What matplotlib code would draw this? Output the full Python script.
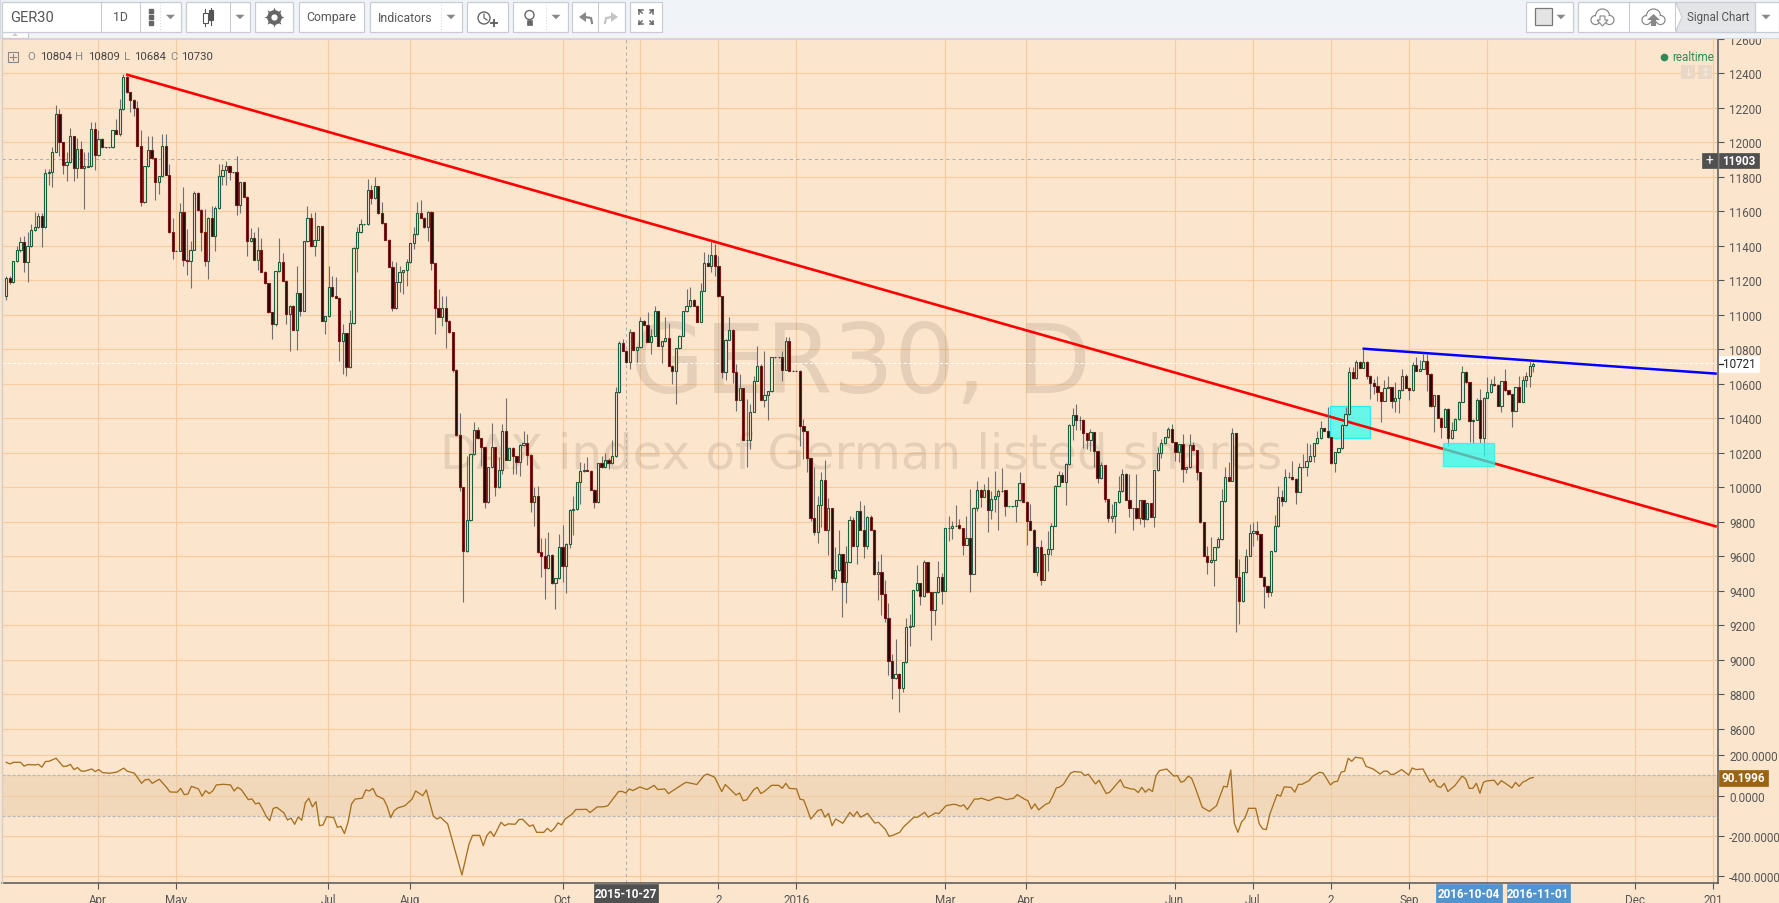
import matplotlib
matplotlib.use('Agg')
import matplotlib.pyplot as plt
import numpy as np
from matplotlib.patches import Rectangle, Circle, Polygon

plt.rcParams['font.family'] = ['Roboto', 'DejaVu Sans']

# daily candles
opens = [
 11111,11212,11192,11310,11374,11420,11304,11397,11494,11507,
 11575,11507,11820,11826,11946,12162,12000,11871,11884,12035,
 11849,11961,11853,11859,11861,12075,11928,12019,11971,11971,
 11971,12070,12050,12191,12377,12290,12247,12199,11981,11652,
 11861,11954,11907,11772,11803,11981,11813,11478,11372,11372,
 11594,11316,11312,11378,11704,11610,11482,11314,11560,11459,
 11617,11807,11842,11861,11826,11826,11639,11768,11685,11430,
 11447,11320,11378,11250,11183,11015,10949,11252,11304,11198,
 11007,11053,10914,11125,11024,11426,11560,11401,11436,11513,
 10966,10991,11160,11107,11100,10850,10893,10696,10951,11388,
 11478,11525,11525,11722,11675,11745,11588,11531,11436,11279,
 11038,11192,11246,11258,11304,11415,11469,11588,11563,11507,
 11598,11299,11038,10990,11038,10966,
 10898,10682,10303,10000,9629,9809,10191,10334,10284,10232,
 9913,10116,10232,10000,10102,10328,10160,10230,10180,10149,
 10245,10255,10187,9913,9952,9623,9600,9530,9610,9443,
 9473,9652,9546,9672,9867,9874,10029,10093,10102,10097,
 9986,9913,10139,10116,10160,10139,10180,10551,10835,10792,
 10724,10898,10798,10811,10966,10943,10844,10879,11020,10821,
 10846,10864,10705,10672,10806,10879,11020,11049,11088,11053,
 10960,11140,11298,11285,11347,11285,11107,10670,10856,10914,
 10670,10508,10574,10276,10276,10438,10618,10701,10508,10537,
 10556,10753,10753,
 10754,10682,10850,10677,10677,10677,10354,10325,10168,9825,
 9743,9898,10041,9755,9879,9473,9519,9612,9454,9566,
 9813,9662,9861,9755,9658,9826,9755,9496,9512,9380,
 9241,8992,8893,8920,8835,8986,9189,9195,9403,9444,
 9369,9566,9392,9291,9392,9479,9401,9763,9767,9778,
 9782,9763,9668,9705,9500,9882,9987,9946,9987,9871,
 9931,9948,9977,9983,9890,9890,9890,9925,10024,9917,
 9807,9755,9512,9653,9465,9612,9643,9778,10010,10074,
 10033,10134,10362,10422,
 10393,10392,10313,10276,10319,10209,10052,10128,9930,9820,
 9836,9913,9977,10079,9929,9878,9878,9820,9925,9817,
 9907,9830,10099,10197,10255,10290,10336,10261,10203,10249,
 10104,10116,10243,10214,10087,9797,9604,9565,9577,9652,
 9699,9919,10058,10039,10313,9478,9339,9507,9604,9733,
 9745,9728,9482,9430,9391,9629,9774,9942,9919,10058,
 10058,10048,9975,
 10116,10116,10151,10180,10255,10284,10342,10329,10290,10139,
 10203,10226,10362,10423,10667,10634,10725,10694,10725,10648,
 10603,10590,10551,10503,10578,10580,10499,10516,10563,10644,
 10578,10563,10707,10677,10688,10734,10659,10470,10534,10404,
 10352,10454,10284,10335,10396,10497,10667,10609,10383,10393,
 10505,10284,10520,10551,10599,10594,10474,10615,10563,10539,
 10445,10580,10497,10620,10644,10704]

closes = [
 11212,11192,11310,11374,11420,11304,11397,11494,11507,11575,
 11507,11820,11826,11946,12162,12000,11871,11884,12035,11849,
 11961,11853,11861,11865,12075,11928,12019,11971,11971,11971,
 12070,12050,12191,12377,12290,12247,12199,11981,11652,11861,
 11954,11907,11772,11803,11981,11813,11478,11372,11372,11594,
 11316,11312,11378,11704,11610,11482,11314,11560,11459,11617,
 11807,11842,11861,11826,11826,11639,11768,11685,11430,11447,
 11320,11378,11250,11183,11015,10949,11252,11304,11198,11007,
 11053,10914,11125,11024,11426,11560,11401,11436,11513,10966,
 10991,11160,11107,11100,10850,10893,10696,10951,11388,11478,
 11525,11525,11722,11675,11745,11588,11531,11436,11279,11038,
 11192,11246,11258,11304,11415,11469,11588,11563,11507,11598,
 11299,11038,10990,11038,10966,10899,
 10682,10303,10000,9629,9809,10191,10334,10284,10232,9913,
 10116,10232,10000,10102,10328,10160,10230,10180,10149,10245,
 10255,10187,9913,9952,9623,9600,9530,9610,9443,9473,
 9652,9546,9672,9867,9874,10029,10093,10102,10097,9986,
 9913,10139,10116,10160,10139,10180,10551,10835,10792,10724,
 10898,10798,10811,10966,10943,10844,10879,11020,10821,10846,
 10864,10705,10672,10806,10879,11020,11049,11088,11053,10960,
 11140,11298,11285,11347,11285,11107,10670,10856,10914,10670,
 10508,10574,10276,10276,10438,10618,10701,10508,10537,10556,
 10753,10753,10753,
 10682,10850,10677,10677,10677,10354,10325,10168,9825,9743,
 9898,10041,9755,9879,9473,9519,9612,9454,9566,9813,
 9662,9861,9755,9658,9826,9755,9496,9512,9380,9241,
 8992,8893,8920,8835,8986,9189,9195,9403,9444,9369,
 9566,9392,9291,9392,9479,9401,9763,9767,9778,9778,
 9763,9668,9705,9500,9882,9987,9946,9987,9871,9931,
 9948,9977,9981,9890,9890,9890,9925,10024,9917,9807,
 9755,9512,9653,9465,9612,9643,9778,10010,10074,10033,
 10134,10362,10422,10393,
 10393,10313,10276,10319,10209,10052,10128,9930,9820,9836,
 9913,9977,10079,9929,9878,9878,9820,9925,9817,9907,
 9830,10099,10197,10255,10290,10336,10261,10203,10249,10104,
 10116,10243,10214,10087,9797,9604,9565,9577,9652,9699,
 9919,10058,10039,10313,9478,9339,9507,9604,9733,9745,
 9728,9482,9430,9391,9629,9774,9942,9919,10058,10058,
 10048,9975,10116,
 10116,10151,10180,10255,10284,10342,10329,10290,10139,10203,
 10226,10362,10423,10667,10634,10725,10694,10725,10648,10603,
 10590,10551,10503,10578,10580,10499,10516,10563,10644,10578,
 10563,10707,10677,10688,10734,10659,10470,10534,10404,10352,
 10454,10284,10335,10396,10497,10667,10609,10383,10393,10505,
 10284,10520,10551,10599,10594,10474,10615,10563,10539,10445,
 10580,10497,10620,10644,10704,10715]

highs = [
 11227,11227,11314,11401,11449,11459,11478,11527,11594,11590,
 11590,11845,11845,11971,12216,12193,12004,11942,12081,12039,
 12025,12010,11942,11942,12116,12116,12073,12023,11973,11973,
 12073,12135,12251,12394,12390,12294,12251,12238,12073,11865,
 12039,12035,11911,11807,12048,12048,11874,11561,11374,11648,
 11739,11498,11430,11720,11710,11614,11614,11565,11633,11633,
 11874,11874,11894,11865,11828,11923,11772,11772,11689,11503,
 11478,11507,11444,11254,11187,11019,11256,11446,11359,11202,
 11057,11057,11281,11129,11430,11633,11590,11594,11517,11517,
 10995,11281,11227,11218,11104,10947,10897,11028,11391,11507,
 11556,11527,11787,11753,11799,11749,11652,11534,11440,11314,
 11304,11285,11262,11324,11418,11507,11652,11664,11567,11602,
 11604,11303,11150,11107,11111,10970,
 10902,10686,10429,10004,10183,10195,10381,10348,10288,10236,
 10120,10371,10236,10174,10367,10516,10234,10234,10183,10249,
 10328,10309,10191,10000,10010,9704,9704,9739,9614,9476,
 9730,9782,9675,9874,9952,10033,10145,10141,10174,10100,
 9990,10143,10183,10199,10168,10276,10580,10850,10860,10796,
 10918,10902,10815,10985,10970,11014,10918,11053,11024,10850,
 10985,10952,10709,10809,10883,11024,11149,11159,11092,11057,
 11184,11362,11352,11430,11410,11343,11111,10860,10985,10918,
 10715,10657,10578,10512,10483,10643,10821,10715,10788,10560,
 10757,10755,10755,
 10789,10870,10870,10679,10679,10680,10396,10329,10172,10116,
 9948,10087,10159,9937,9882,9653,9755,9616,9658,9832,
 9826,9865,9919,9898,9836,9840,9759,9575,9614,9465,
 9330,9034,9121,8924,8990,9243,9266,9407,9550,9448,
 9581,9570,9396,9396,9571,9504,9767,9836,9807,9898,
 9817,9767,9836,9991,9886,10035,9991,10020,10058,9981,
 10093,9991,10112,9987,9892,9892,9929,10087,10027,9921,
 9904,9759,9656,9695,9616,9749,9794,10014,10097,10087,
 10141,10366,10458,10483,
 10415,10396,10317,10338,10323,10213,10145,10131,9934,9903,
 9917,10064,10106,10083,10077,9882,10077,9929,9929,9911,
 9911,10102,10232,10280,10294,10348,10367,10265,10253,10309,
 10120,10309,10265,10218,10091,9801,9658,9710,9656,9714,
 9990,10116,10145,10344,10317,9585,9511,9643,9788,9797,
 9807,9731,9486,9434,9633,9840,10010,9987,10106,10087,
 10155,10052,10141,
 10194,10255,10251,10259,10329,10387,10346,10464,10294,10207,
 10230,10366,10464,10700,10696,10738,10734,10802,10734,10651,
 10628,10648,10555,10622,10644,10584,10609,10566,10686,10657,
 10584,10729,10754,10740,10777,10773,10663,10537,10537,10408,
 10458,10458,10377,10400,10501,10702,10677,10613,10396,10516,
 10570,10524,10642,10628,10648,10597,10619,10686,10566,10543,
 10584,10648,10648,10667,10735,10729]

lows = [
 11088,11179,11185,11304,11366,11250,11192,11391,11488,11501,
 11395,11501,11753,11739,11942,11919,11816,11778,11880,11778,
 11791,11849,11614,11855,11857,11838,11923,11965,11969,11969,
 11967,12046,12035,12187,12286,12178,12155,11977,11629,11648,
 11857,11903,11668,11701,11799,11809,11475,11324,11370,11368,
 11285,11231,11158,11374,11602,11372,11285,11208,11455,11372,
 11614,11753,11755,11784,11824,11579,11590,11681,11343,11424,
 11316,11262,11246,11179,11011,10860,10937,11248,11194,10947,
 10792,10910,10798,10991,11020,11422,11397,11343,11432,10963,
 10889,10988,11104,11096,10735,10657,10648,10692,10947,11246,
 11475,11523,11521,11643,11672,11585,11527,11432,11275,11024,
 11034,11134,11121,11169,11301,11382,11465,11560,11503,11430,
 11262,10889,10986,10937,10810,10895,
 10666,10299,9981,9337,9625,9805,10187,10280,10126,9880,
 9909,10112,9952,9996,10077,10156,10156,10077,10077,10064,
 10241,10129,9855,9778,9619,9478,9353,9527,9440,9295,
 9469,9449,9388,9646,9726,9867,9903,10089,10093,9983,
 9880,9909,10112,10112,10106,10135,10176,10547,10788,10721,
 10686,10794,10728,10807,10939,10840,10773,10875,10817,10721,
 10842,10701,10599,10483,10802,10875,11016,11045,11049,10956,
 10956,11136,11281,11250,11227,11103,10632,10624,10852,10605,
 10444,10504,10272,10116,10222,10435,10614,10504,10464,10392,
 10552,10751,10751,
 10619,10678,10673,10675,10675,10242,10165,10087,9805,9724,
 9678,9768,9751,9608,9407,9454,9515,9247,9330,9562,
 9658,9556,9751,9589,9643,9751,9492,9349,9260,9222,
 8913,8770,8889,8696,8812,8982,9079,9191,9400,9315,
 9365,9388,9117,9199,9388,9324,9398,9691,9701,9774,
 9759,9608,9664,9396,9496,9865,9884,9942,9743,9817,
 9855,9755,9973,9836,9888,9888,9801,9921,9913,9666,
 9751,9508,9488,9436,9461,9517,9608,9774,10006,10029,
 9898,10130,10277,10335,
 10334,10226,10222,10213,10116,10023,10048,9913,9801,9797,
 9733,9909,9973,9925,9830,9755,9817,9788,9768,9813,
 9826,9768,10095,10170,10251,10286,10257,10155,10149,10033,
 10083,10112,10211,10045,9793,9600,9498,9561,9426,9648,
 9695,9915,10035,10035,9160,9210,9335,9504,9600,9658,
 9697,9478,9299,9362,9368,9625,9770,9894,9915,10054,
 10044,9903,9971,
 10112,10068,10147,10145,10251,10280,10325,10286,10135,10091,
 10199,10223,10358,10420,10630,10630,10690,10690,10628,10512,
 10541,10503,10381,10499,10576,10458,10435,10431,10559,10574,
 10507,10559,10673,10673,10684,10561,10466,10319,10400,10284,
 10348,10242,10280,10331,10393,10493,10605,10261,10257,10389,
 10257,10180,10516,10547,10590,10470,10439,10559,10535,10348,
 10441,10493,10493,10580,10580,10667]

# CCI pane, position (first bar 0, last bar 429) and value at each bend of the line
cci_bar = [
 0,1,2,4,5,6,8,9,10,11,12,14,16,17,18,19,20,21,22,24,25,26,27,29,31,33,34,36,37,38,
 39,40,41,43,45,46,48,49,50,51,52,54,55,56,57,58,59,61,63,64,65,66,68,69,70,71,72,73,74,75,
 76,78,79,80,81,82,83,84,85,86,87,88,89,90,92,93,94,95,96,97,98,100,101,102,103,104,106,107,108,109,
 110,112,114,115,117,118,120,121,122,123,124,128,130,131,133,134,135,136,137,139,140,141,143,144,145,147,148,149,151,152,
 153,154,155,156,157,159,160,163,164,166,168,169,172,173,174,175,176,178,180,182,183,185,186,188,190,191,194,196,197,199,
 201,202,205,206,207,208,210,211,212,213,215,217,218,219,220,222,223,224,225,226,228,229,230,231,232,233,235,237,238,239,
 240,242,244,245,247,248,249,251,252,253,255,256,258,259,261,262,264,266,267,268,269,270,272,273,274,276,278,279,281,283,
 284,286,287,288,289,290,292,293,294,295,296,297,299,300,302,303,304,306,307,309,310,313,314,316,317,318,319,320,321,322,
 323,324,326,328,329,330,331,332,333,334,336,338,340,342,343,344,345,346,347,348,349,351,352,353,354,355,357,358,359,361,
 362,363,364,366,367,369,370,372,373,374,375,376,377,378,379,381,382,384,386,387,388,389,390,392,394,395,396,398,400,401,
 402,403,404,405,407,409,410,411,412,413,414,415,416,418,419,420,421,423,424,425,426,427,428,429]
cci_val = [
 165,157,165,165,146,154,152,155,141,169,170,185,144,146,155,129,139,122,121,132,119,129,114,111,116,136,121,111,86,61,
 78,81,61,81,41,18,17,36,5,7,46,33,-3,25,10,23,53,56,53,23,41,30,-20,-16,-41,-36,-66,-102,-124,-63,
 -58,-86,-121,-111,-142,-106,-122,-36,-13,-56,-30,-149,-145,-104,-109,-157,-152,-188,-132,-41,-17,-13,28,23,36,0,-17,-53,-109,-74,
 -61,-50,-17,23,0,28,-102,-116,-107,-124,-140,-393,-240,-197,-197,-248,-198,-177,-202,-132,-149,-140,-142,-119,-117,-152,-145,-182,-182,-162,
 -178,-162,-135,-145,-116,-91,-69,-68,-84,-56,-55,-50,20,21,13,33,25,43,30,51,30,33,10,33,56,66,55,99,107,91,
 20,55,3,13,-25,-21,30,41,10,21,51,51,36,61,36,33,-18,-21,-66,-116,-74,-69,-107,-88,-149,-116,-137,-83,-104,-79,
 -107,-88,-136,-132,-168,-202,-197,-182,-157,-140,-107,-107,-83,-107,-86,-89,-50,-43,-45,-53,-46,-69,-17,-17,-13,-25,-10,-8,-20,-13,
 5,-17,-25,-66,-41,-71,-43,-36,-3,38,43,56,112,119,116,99,106,58,76,10,17,79,43,33,31,15,41,17,33,20,
 99,124,132,97,99,66,73,96,86,41,-58,-78,-50,46,43,127,-137,-182,-132,-111,-63,-63,-140,-165,-168,-91,5,-3,43,41,
 17,56,56,74,96,116,111,53,68,71,116,121,185,170,190,185,145,132,107,121,121,104,107,129,102,137,129,132,66,81,
 46,41,61,20,50,97,83,36,36,61,12,66,73,76,53,74,63,38,66,46,66,74,86,90]

price_ticks = list(range(8600, 12601, 200))
cci_ticks = [200, 0, -200, -400]
cci_labels = ['200.0000', '0.0000', '-200.0000', '-400.0000']

# month marks along the bottom, in bar numbers
month_bars = [25.9, 47.9, 90.9, 113.9, 157.0, 201.0, 223.0, 264.9, 287.8, 329.8, 351.8, 373.9, 395.9, 459.7, 481.7]
month_labels = ['Apr', 'May', 'Jul', 'Aug', 'Oct', '2', '2016', 'Mar', 'Apr', 'Jun', 'Jul', '2', 'Sep', 'Dec', '201']
grid_bars = month_bars + [179.0, 417.9]

# hand drawn lines and boxes on the chart
red_line_bars = [33.8, 482.8]
red_line_prices = [12394, 9772]
blue_line_bars = [382.8, 482.8]
blue_line_prices = [10804, 10659]
box1 = (373.7, 384.8, 10288, 10470)
box2 = (405.6, 419.8, 10126, 10255)

last_price = 10721
cross_price = 11903
cross_bar = 175.0

BG = '#FCE5CD'
GRID = '#F9CB9C'
TXT = '#555555'
W, H = 1779, 904

fig = plt.figure(figsize=(W / 100, H / 100), dpi=100, facecolor=BG)


def px_axes(x0, y0, x1, y1):
    return fig.add_axes([x0 / W, 1 - y1 / H, (x1 - x0) / W, (y1 - y0) / H])


n = len(closes)
step = 1527 / (n - 1)
xlim = ((2 - 6.3) / step, (1718 - 6.3) / step)
bars = np.arange(n)
opens_a = np.array(opens)
closes_a = np.array(closes)
up = closes_a >= opens_a
cci_x = np.array(cci_bar) * (n - 1) / 429

ax = px_axes(2, 39, 1718, 750)
ax2 = px_axes(2, 751, 1718, 884)
for a in (ax, ax2):
    a.set_facecolor(BG)
    a.set_xlim(xlim)
    for v in grid_bars:
        a.axvline(v, color=GRID, lw=0.8, zorder=1)
    a.axvline(cross_bar, color='#AFAFAF', lw=0.75, dashes=(3, 3), zorder=2)
    for s in a.spines.values():
        s.set_visible(False)
    a.spines['right'].set_visible(True)
    a.spines['right'].set_color('#555555')
    a.spines['right'].set_linewidth(1.1)
    a.yaxis.tick_right()

ax.set_ylim(8483, 12605)
ax.set_yticks(price_ticks)
ax.set_yticklabels([str(t) for t in price_ticks])
ax.tick_params(axis='y', length=4, width=0.8, color='#555555', labelcolor=TXT, labelsize=8.4, pad=4)
ax.set_xticks([])
for p in price_ticks:
    ax.axhline(p, color=GRID, lw=0.8, zorder=1)

# watermark
wm_x = (861 - 6.3) / step
ax.text(wm_x, 10705, 'GER30, D', color='#8a7a66', alpha=0.2, fontsize=69.5, family='DejaVu Sans',
        ha='center', va='center', zorder=1.5)
ax.text(wm_x, 10195, 'DAX index of German listed shares', color='#8a7a66', alpha=0.2, fontsize=34.8,
        family='DejaVu Sans', ha='center', va='center', zorder=1.5)

# lines for last price and crosshair
ax.axhline(last_price, color='white', lw=0.75, dashes=(3, 2), zorder=2)
ax.axhline(cross_price, color='#AFAFAF', lw=0.75, dashes=(3, 3), zorder=2)

# box one sits under the trend line, box two over it
ax.add_patch(Rectangle((box1[0], box1[2]), box1[1] - box1[0], box1[3] - box1[2], fc='#5FF7EA', ec='#22F0F0',
                       lw=1.0, alpha=0.95, zorder=2.5))
ax.plot(red_line_bars, red_line_prices, color='#FF0000', lw=1.9, zorder=3, solid_capstyle='butt')
ax.plot(blue_line_bars, blue_line_prices, color='#0000FF', lw=1.8, zorder=3, solid_capstyle='butt')

# candles
ax.vlines(bars, lows, highs, color='#6F6F6F', lw=0.8, zorder=4)
ax.bar(bars[up], (closes_a - opens_a)[up], bottom=opens_a[up], width=0.62, facecolor=BG, edgecolor='#1B5E3F',
       linewidth=0.8, zorder=5)
ax.bar(bars[~up], (closes_a - opens_a)[~up], bottom=opens_a[~up], width=0.62, facecolor='#1E0806', edgecolor='#7A1A14',
       linewidth=0.8, zorder=5)

ax.add_patch(Rectangle((box2[0], box2[2]), box2[1] - box2[0], box2[3] - box2[2], fc='#1EFFF5', ec='#22F0F0',
                       lw=1.0, alpha=0.72, zorder=6))

# lower pane
ax2.set_ylim(-433, 226)
ax2.set_yticks(cci_ticks)
ax2.set_yticklabels(cci_labels)
ax2.tick_params(axis='y', length=4, width=0.8, color='#555555', labelcolor=TXT, labelsize=8.4, pad=4)
for p in cci_ticks:
    ax2.axhline(p, color=GRID, lw=0.8, zorder=1)
ax2.axhspan(-100, 100, color='#E8C9A4', alpha=0.45, lw=0, zorder=1.5)
ax2.axhline(100, color='#B8B8B8', lw=0.9, dashes=(2.5, 1.5), zorder=2)
ax2.axhline(-100, color='#B8B8B8', lw=0.9, dashes=(2.5, 1.5), zorder=2)
ax2.plot(cci_x, cci_val, color='#A6701F', lw=0.95, zorder=4)
ax2.set_xticks(month_bars)
ax2.set_xticklabels(month_labels)
ax2.tick_params(axis='x', length=4, width=0.8, color='#555555', labelcolor=TXT, labelsize=8.4, pad=3)
ax2.spines['bottom'].set_visible(True)
ax2.spines['bottom'].set_color('#555555')
ax2.spines['bottom'].set_linewidth(1.1)

# everything else is the chart page around the panes, drawn in pixels
ui = fig.add_axes([0, 0, 1, 1], zorder=10)
ui.set_xlim(0, W)
ui.set_ylim(H, 0)
ui.axis('off')
ui.patch.set_alpha(0)


def box(x0, y0, x1, y1, fc='white', ec='#C9CDD3', lw=0.9, z=1):
    ui.add_patch(Rectangle((x0, y0), x1 - x0, y1 - y0, fc=fc, ec=ec, lw=lw, zorder=z))


def label(x, y, s, color=TXT, size=8.4, ha='center', weight='normal'):
    ui.text(x, y, s, color=color, fontsize=size, ha=ha, va='center', fontweight=weight, zorder=5)


def tri(x, y, w=4.5, h=4.5, color='#888888'):
    ui.add_patch(Polygon([(x - w, y - h / 2), (x + w, y - h / 2), (x, y + h / 2)], fc=color, ec='none', zorder=4))


# toolbar
box(0, 0, W, 38.5, fc='#F0F3F8', ec='#D5D8DD', lw=0.8, z=0.5)
ui.plot([2, 2], [38, 884], color='#CDD0D6', lw=1.0, zorder=1)
box(2, 32.5, 28, 38.5, fc='white', z=0.8)
ui.add_patch(Polygon([(12, 37), (18, 37), (15, 34)], fc='#CCCCCC', ec='none', zorder=2))

box(2, 3, 181, 32.5)
for xd in (101, 139.5):
    ui.plot([xd, xd], [3, 32.5], color='#C9CDD3', lw=0.8, zorder=2)
ui.plot([160, 160], [3, 32.5], color='#D8D8D8', lw=0.8, ls=':', zorder=2)
label(10, 18, 'GER30', size=10.5, ha='left')
label(120.5, 17.5, '1D', size=8.8)
ui.plot([150.5] * 3, [12, 18, 24], 's', color='#666666', ms=2.2, zorder=3)
tri(170.5, 18)

box(186, 3, 250, 32.5)
ui.plot([229.5, 229.5], [3, 32.5], color='#C9CDD3', lw=0.8, zorder=2)
ui.plot([205, 205], [10, 27], color='#555555', lw=0.8, zorder=3)
ui.plot([211, 211], [9, 26], color='#555555', lw=0.8, zorder=3)
box(202.5, 14, 207.5, 24, fc='white', ec='#555555', lw=0.8, z=4)
box(209, 11, 213, 21, fc='#555555', ec='#555555', lw=0.8, z=4)
tri(240, 18)

box(255, 3, 293, 32.5)
ui.plot([274], [18], marker=(8, 1, 0), ms=14.5, color='#666666', mew=0, zorder=3)
ui.plot([274], [18], 'o', ms=10.5, color='#666666', mew=0, zorder=3)
ui.plot([274], [18], 'o', ms=4.5, color='white', mew=0, zorder=4)

box(298.5, 3, 364, 32.5)
label(331, 18, 'Compare', size=8.8)
box(369.5, 3, 461.5, 32.5)
ui.plot([440.5, 440.5], [3, 32.5], color='#D8D8D8', lw=0.8, ls=':', zorder=2)
label(405, 18, 'Indicators', size=8.8)
tri(451, 18)

box(466.5, 3, 507.5, 32.5)
ui.add_patch(Circle((484, 19), 6, fc='white', ec='#666666', lw=1.0, zorder=3))
ui.plot([484, 484, 487], [15, 19, 21], color='#666666', lw=0.9, zorder=4)
ui.plot([494, 494], [21, 27], color='#666666', lw=1.4, zorder=4)
ui.plot([491, 497], [24, 24], color='#666666', lw=1.4, zorder=4)

box(512.5, 3, 567.5, 32.5)
ui.plot([545.5, 545.5], [3, 32.5], color='#D8D8D8', lw=0.8, ls=':', zorder=2)
ui.add_patch(Circle((529.5, 16), 4.5, fc='white', ec='#666666', lw=1.0, zorder=3))
box(527, 21, 532, 26, fc='#666666', ec='#666666', lw=0.5, z=3)
tri(556, 18)

box(572, 3, 624.5, 32.5)
ui.plot([598, 598], [3, 32.5], color='#C9CDD3', lw=0.8, zorder=2)
ui.add_patch(Polygon([(579, 18), (586, 13), (586, 23)], fc='#888888', ec='none', zorder=3))
ui.plot([585, 591, 592], [18, 19, 24], color='#888888', lw=1.6, zorder=3)
ui.add_patch(Polygon([(618, 18), (611, 13), (611, 23)], fc='#C4C4C4', ec='none', zorder=3))
ui.plot([612, 606, 605], [18, 19, 24], color='#C4C4C4', lw=1.6, zorder=3)

box(630, 3, 661.5, 32.5)
for dx, dy in ((-1, -1), (1, -1), (-1, 1), (1, 1)):
    cx, cy = 646 + dx * 7, 18 + dy * 7
    ui.plot([cx, cx - dx * 3], [cy, cy - dy * 3], color='#666666', lw=1.1, zorder=3)
    ui.plot([cx, cx - dx * 3.5], [cy, cy], color='#666666', lw=1.1, zorder=3)
    ui.plot([cx, cx], [cy, cy - dy * 3.5], color='#666666', lw=1.1, zorder=3)

box(1526, 3, 1572.5, 32.5)
box(1535, 9, 1551.5, 25.5, fc='#E4E4E4', ec='#777777', lw=0.9, z=3)
tri(1561, 18)

box(1577.5, 3, 1778.5, 32.5)
ui.plot([1628.5, 1628.5], [3, 32.5], color='#C9CDD3', lw=0.8, zorder=2)
box(1675.5, 3, 1754.5, 32.5, fc='#E4E5E7', ec='#C9CDD3', z=2)
ui.add_patch(Polygon([(1675.5, 3), (1682, 18), (1675.5, 32.5)], fc='white', ec='#C9CDD3', lw=0.8, zorder=3))
label(1718, 17, 'Signal Chart', size=8.4)
tri(1766, 18)
for cx in (1602.5, 1653.5):
    for dx, dy, r in ((-7, 3, 4.5), (0, -1, 7), (7, 3, 4.5)):
        ui.add_patch(Circle((cx + dx, 18 + dy), r, fc='white', ec='#888888', lw=0.9, zorder=3))
    for dx, dy, r in ((-7, 3, 3.6), (0, -1, 6.1), (7, 3, 3.6)):
        ui.add_patch(Circle((cx + dx, 18 + dy), r, fc='white', ec='none', zorder=3.1))
ui.add_patch(Polygon([(1600, 17), (1605, 17), (1605, 21), (1608, 21), (1602.5, 27), (1597, 21), (1600, 21)],
                     fc='white', ec='#888888', lw=0.8, zorder=4))
ui.add_patch(Polygon([(1651, 27), (1656, 27), (1656, 21), (1660, 21), (1653.5, 15), (1647, 21), (1651, 21)],
                     fc='#888888', ec='none', zorder=4))

# OHLC legend
box(8, 52.5, 18, 62.5, fc=BG, ec='#888888', lw=0.8)
ui.plot([13, 13], [54.5, 60.5], color='#888888', lw=0.8, zorder=2)
ui.plot([10, 16], [57.5, 57.5], color='#888888', lw=0.8, zorder=2)
for xl, s, c in ((27, 'O', '#888888'), (40, '10804', '#444444'), (75, 'H', '#888888'), (88, '10809', '#444444'),
                 (124, 'L', '#888888'), (134, '10684', '#444444'), (170, 'C', '#888888'), (181, '10730', '#444444')):
    label(xl, 57.5, s, color=c, size=8.2, ha='left')

# realtime
ui.plot([1664], [57.7], 'o', color='#2E8B57', ms=5.5, mew=0, zorder=3)
label(1672, 57.5, 'realtime', color='#2E8B57', size=8.4, ha='left')
for x0 in (1681, 1698):
    box(x0, 66, x0 + 14, 80, fc='#E9D8C5', ec='none', lw=0)
    label(x0 + 7, 73, '↓' if x0 == 1681 else '↕', color='#F7EBDD', size=8)

# price tags
box(1702, 153.5, 1717, 169, fc='#505050', ec='#505050', lw=0.5, z=6)
ui.text(1709.5, 161, '+', color='white', fontsize=10, ha='center', va='center', zorder=7)
box(1718.5, 153.5, 1759, 169, fc='#505050', ec='#505050', lw=0.5, z=4)
label(1739, 161.5, '11903', color='white', size=8.4, weight='bold')
box(1718.5, 356.7, 1759, 372.7, fc='white', ec='white', lw=0.5, z=4)
label(1739, 365, '10721', color='#222222', size=8.4)
ui.plot([1718.5, 1722.5], [364.5, 364.5], color='#222222', lw=0.9, zorder=5)
box(1719, 771, 1767.5, 786.7, fc='#9A6410', ec='#9A6410', lw=0.5, z=4)
label(1743, 779, '90.1996', color='white', size=8.4, weight='bold')

# date tags
box(594, 884.5, 658, 904, fc='#505050', ec='#505050', lw=0.5, z=4)
label(626, 895, '2015-10-27', color='white', size=8.4, weight='bold')
box(1436, 884.5, 1502, 904, fc='#5294CE', ec='#5294CE', lw=0.5, z=4)
label(1469, 895, '2016-10-04', color='white', size=8.4, weight='bold')
box(1507, 884.5, 1570, 904, fc='#5294CE', ec='#5294CE', lw=0.5, z=4)
label(1538, 895, '2016-11-01', color='white', size=8.4, weight='bold')

fig.savefig('out.png', dpi=100, facecolor=BG)
